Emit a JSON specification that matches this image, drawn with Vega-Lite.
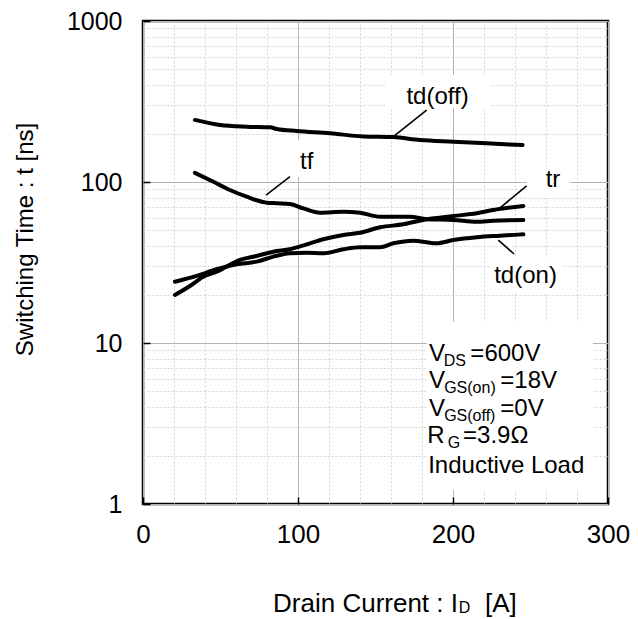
{
  "$schema": "https://vega.github.io/schema/vega-lite/v6.json",
  "width": 465,
  "height": 483,
  "autosize": {"type": "none"},
  "padding": {"left": 143, "top": 21, "right": 30, "bottom": 115},
  "background": "white",
  "config": {
    "view": {"stroke": "black", "strokeWidth": 2.5},
    "font": "Liberation Sans",
    "text": {"font": "Liberation Sans", "color": "black"}
  },
  "datasets": {
    "curves": [
      {"s": "td(off)", "x": 33.5, "y": 243}, {"s": "td(off)", "x": 49.7, "y": 226}, {"s": "td(off)", "x": 66.9, "y": 220.6}, {"s": "td(off)", "x": 81.9, "y": 218.7}, {"s": "td(off)", "x": 86.3, "y": 213.5}, {"s": "td(off)", "x": 99.2, "y": 207.4}, {"s": "td(off)", "x": 120.6, "y": 200.7}, {"s": "td(off)", "x": 142, "y": 192}, {"s": "td(off)", "x": 161.5, "y": 190}, {"s": "td(off)", "x": 178.7, "y": 182.4}, {"s": "td(off)", "x": 200.2, "y": 178}, {"s": "td(off)", "x": 221.7, "y": 173.9}, {"s": "td(off)", "x": 244.9, "y": 169.7},
      {"s": "tf", "x": 33.5, "y": 114}, {"s": "tf", "x": 45.4, "y": 100.4}, {"s": "tf", "x": 56.1, "y": 89.2}, {"s": "tf", "x": 66.9, "y": 81}, {"s": "tf", "x": 79.8, "y": 74.4}, {"s": "tf", "x": 86.3, "y": 73.8}, {"s": "tf", "x": 94.8, "y": 73}, {"s": "tf", "x": 103.4, "y": 68.6}, {"s": "tf", "x": 114.2, "y": 64.5}, {"s": "tf", "x": 129.2, "y": 65.4}, {"s": "tf", "x": 140, "y": 64.5}, {"s": "tf", "x": 152.9, "y": 60.9}, {"s": "tf", "x": 172.3, "y": 60.9}, {"s": "tf", "x": 183, "y": 58.7}, {"s": "tf", "x": 200.2, "y": 58.1}, {"s": "tf", "x": 215.3, "y": 56.6}, {"s": "tf", "x": 226, "y": 57.5}, {"s": "tf", "x": 245.4, "y": 58.1},
      {"s": "tr", "x": 20.6, "y": 19.9}, {"s": "tr", "x": 30.3, "y": 22.6}, {"s": "tr", "x": 38.9, "y": 25.8}, {"s": "tr", "x": 47.5, "y": 27.7}, {"s": "tr", "x": 62.6, "y": 32.8}, {"s": "tr", "x": 73.3, "y": 34.7}, {"s": "tr", "x": 84.1, "y": 36.9}, {"s": "tr", "x": 94.8, "y": 38.2}, {"s": "tr", "x": 105.6, "y": 41}, {"s": "tr", "x": 116.3, "y": 44.1}, {"s": "tr", "x": 129.2, "y": 46.9}, {"s": "tr", "x": 140, "y": 48.4}, {"s": "tr", "x": 152.9, "y": 52.3}, {"s": "tr", "x": 167.9, "y": 54.6}, {"s": "tr", "x": 183, "y": 58.7}, {"s": "tr", "x": 200.2, "y": 61.5}, {"s": "tr", "x": 215.3, "y": 63.9}, {"s": "tr", "x": 226, "y": 67}, {"s": "tr", "x": 245.4, "y": 71},
      {"s": "td(on)", "x": 20.6, "y": 24}, {"s": "td(on)", "x": 34.6, "y": 26.1}, {"s": "td(on)", "x": 47.5, "y": 28.7}, {"s": "td(on)", "x": 60.4, "y": 30.8}, {"s": "td(on)", "x": 73.3, "y": 32}, {"s": "td(on)", "x": 84.1, "y": 34.4}, {"s": "td(on)", "x": 94.8, "y": 36.1}, {"s": "td(on)", "x": 105.6, "y": 36.4}, {"s": "td(on)", "x": 116.3, "y": 36.1}, {"s": "td(on)", "x": 129.2, "y": 38.2}, {"s": "td(on)", "x": 140, "y": 39.4}, {"s": "td(on)", "x": 152.9, "y": 39.4}, {"s": "td(on)", "x": 161.5, "y": 41.6}, {"s": "td(on)", "x": 174.2, "y": 43.2}, {"s": "td(on)", "x": 189.2, "y": 41.6}, {"s": "td(on)", "x": 200.2, "y": 43.6}, {"s": "td(on)", "x": 215.3, "y": 45.4}, {"s": "td(on)", "x": 230.3, "y": 46.4}, {"s": "td(on)", "x": 245.4, "y": 47.3}
    ],
    "boxes": [
      {"x": 156.1, "x2": 223.9, "y": 288, "y2": 462},
      {"x": 96.8, "x2": 114.2, "y": 107.4, "y2": 182.4},
      {"x": 247.7, "x2": 275.5, "y": 80.7, "y2": 124},
      {"x": 223.9, "x2": 271, "y": 20.7, "y2": 33.7},
      {"x": 183.2, "x2": 290.3, "y": 1.22, "y2": 13.5}
    ],
    "leaders": [
      {"x": 161.5, "y": 191.1, "x2": 183, "y2": 280},
      {"x": 79.4, "y": 83, "x2": 94.8, "y2": 107.9},
      {"x": 229.2, "y": 67.7, "x2": 247.5, "y2": 94.5},
      {"x": 229.2, "y": 43.6, "x2": 239.4, "y2": 35.7}
    ],
    "labels": [
      {"t": "td(off)", "x": 190, "y": 307},
      {"t": "tf", "x": 105.6, "y": 120},
      {"t": "tr", "x": 264.5, "y": 93.5},
      {"t": "td(on)", "x": 246.8, "y": 23.5}
    ],
    "notes": [
      {"t": "V", "x": 184.5, "y": 7.76},
      {"t": "=600V", "x": 211.2, "y": 7.76},
      {"t": "V", "x": 184.5, "y": 5.23},
      {"t": "=18V", "x": 230.5, "y": 5.23},
      {"t": "V", "x": 184.5, "y": 3.54},
      {"t": "=0V", "x": 230.5, "y": 3.54},
      {"t": "R", "x": 183.4, "y": 2.38},
      {"t": "=3.9Ω", "x": 206.5, "y": 2.38},
      {"t": "Inductive Load", "x": 184, "y": 1.565}
    ],
    "subs": [
      {"t": "DS", "x": 194, "y": 7.23},
      {"t": "GS(on)", "x": 194.3, "y": 4.87},
      {"t": "GS(off)", "x": 194.3, "y": 3.29},
      {"t": "G", "x": 196.6, "y": 2.22},
      {"t": "D", "x": 203.7, "y": 0.2095}
    ],
    "xtitle": [
      {"t": "Drain Current : I", "x": 83.9, "y": 0.2143},
      {"t": "[A]", "x": 220.6, "y": 0.2143}
    ]
  },
  "encoding": {
    "x": {
      "field": "x", "type": "quantitative",
      "scale": {"domain": [0, 300], "nice": false, "zero": false},
      "axis": {
        "title": null,
        "values": [0, 20, 40, 60, 80, 100, 120, 140, 160, 180, 200, 220, 240, 260, 280, 300],
        "labelExpr": "datum.value % 100 === 0 ? datum.label : ''",
        "format": "d",
        "domain": false,
        "labelFont": "Liberation Sans", "labelFontSize": 26, "labelColor": "black",
        "labelPadding": 24,
        "tickSize": -7, "tickColor": "black", "tickWidth": 1.5,
        "tickOpacity": {"condition": {"test": "datum.value % 100 === 0", "value": 1}, "value": 0},
        "grid": true,
        "gridColor": {"condition": {"test": "datum.value % 100 === 0", "value": "#b4b4b4"}, "value": "#d4d4d4"},
        "gridDash": {"condition": {"test": "datum.value % 100 === 0", "value": []}, "value": [2, 2]},
        "gridWidth": 1, "gridOpacity": 1,
        "labelFlush": false, "labelOverlap": false
      }
    },
    "y": {
      "field": "y", "type": "quantitative",
      "scale": {"type": "log", "domain": [1, 1000], "nice": false},
      "axis": {
        "title": "Switching Time : t [ns]",
        "titleFont": "Liberation Sans", "titleFontSize": 24, "titleFontWeight": "normal", "titleColor": "black",
        "titleX": -118, "titleY": 218, "titleAngle": -90, "titleAlign": "center", "titleBaseline": "middle",
        "values": [1, 2, 3, 4, 5, 6, 7, 8, 9, 10, 20, 30, 40, 50, 60, 70, 80, 90, 100, 200, 300, 400, 500, 600, 700, 800, 900, 1000],
        "format": "d",
        "labelExpr": "abs(log(datum.value)/LN10 - round(log(datum.value)/LN10)) < 1e-6 ? datum.label : ''",
        "domain": false,
        "labelFont": "Liberation Sans", "labelFontSize": 25, "labelColor": "black",
        "labelPadding": 28,
        "tickSize": -7, "tickColor": "black", "tickWidth": 1.5,
        "tickOpacity": {"condition": {"test": "abs(log(datum.value)/LN10 - round(log(datum.value)/LN10)) < 1e-6", "value": 1}, "value": 0},
        "grid": true,
        "gridColor": {"condition": {"test": "abs(log(datum.value)/LN10 - round(log(datum.value)/LN10)) < 1e-6", "value": "#b4b4b4"}, "value": "#d4d4d4"},
        "gridDash": {"condition": {"test": "abs(log(datum.value)/LN10 - round(log(datum.value)/LN10)) < 1e-6", "value": []}, "value": [2, 2]},
        "gridWidth": 1, "gridOpacity": 1,
        "labelFlush": false, "labelOverlap": false
      }
    }
  },
  "layer": [
    {
      "data": {"name": "boxes"},
      "mark": {"type": "rect", "fill": "white", "stroke": null},
      "encoding": {"x2": {"field": "x2"}, "y2": {"field": "y2"}}
    },
    {
      "data": {"name": "curves"},
      "mark": {"type": "line", "color": "black", "strokeWidth": 4, "interpolate": "monotone", "strokeCap": "round"},
      "encoding": {"detail": {"field": "s"}}
    },
    {
      "data": {"name": "leaders"},
      "mark": {"type": "rule", "color": "black", "strokeWidth": 1.6},
      "encoding": {"x2": {"field": "x2"}, "y2": {"field": "y2"}}
    },
    {
      "data": {"name": "labels"},
      "mark": {"type": "text", "fontSize": 24, "align": "center", "baseline": "alphabetic"},
      "encoding": {"text": {"field": "t"}}
    },
    {
      "data": {"name": "notes"},
      "mark": {"type": "text", "fontSize": 24, "align": "left", "baseline": "alphabetic"},
      "encoding": {"text": {"field": "t"}}
    },
    {
      "data": {"name": "subs"},
      "mark": {"type": "text", "fontSize": 16, "align": "left", "baseline": "alphabetic"},
      "encoding": {"text": {"field": "t"}}
    },
    {
      "data": {"name": "xtitle"},
      "mark": {"type": "text", "fontSize": 26, "align": "left", "baseline": "alphabetic"},
      "encoding": {"text": {"field": "t"}}
    }
  ]
}
